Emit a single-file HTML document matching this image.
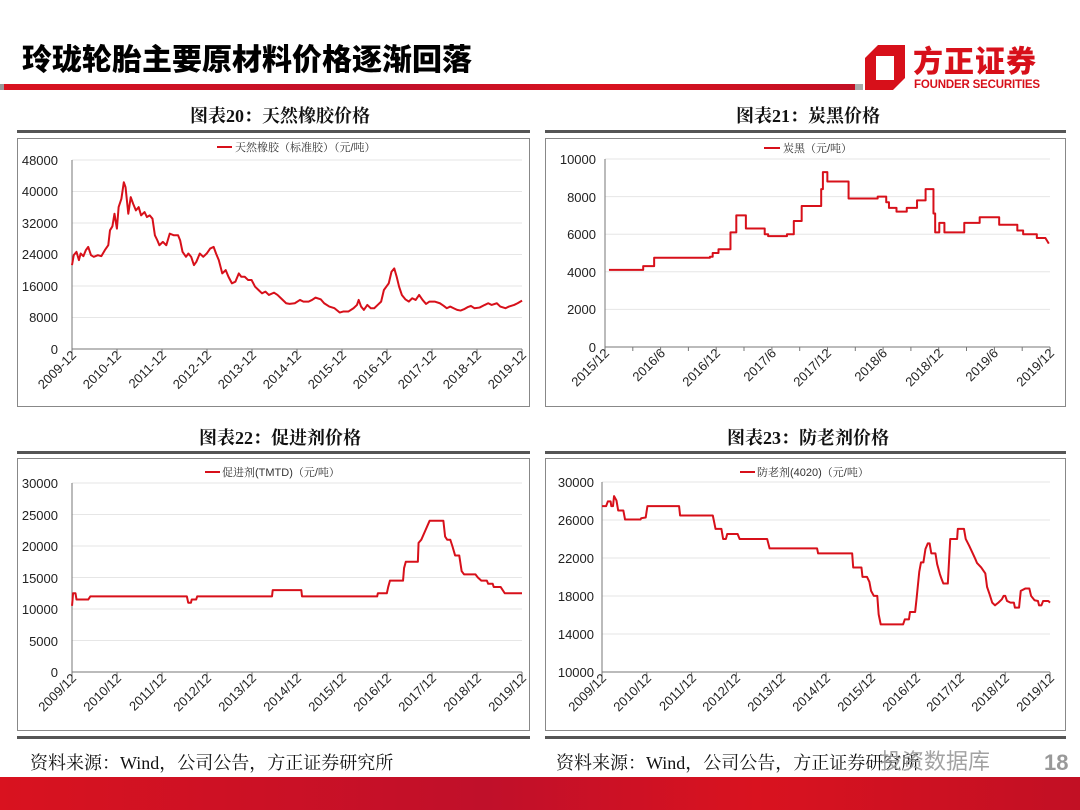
<!DOCTYPE html>
<html><head><meta charset="utf-8"><style>
html,body{margin:0;padding:0;background:#fff;}
svg{display:block;}
.t{font-family:"Liberation Sans","Noto Sans CJK SC",sans-serif;font-size:13px;fill:#222;}
.h{font-family:"Liberation Serif","Noto Serif CJK SC",serif;font-size:18px;font-weight:bold;fill:#111;}
.lg{font-family:"Liberation Sans","Noto Serif CJK SC",serif;font-size:11px;fill:#333;}
.g{stroke:#e6e6e6;stroke-width:1;}
.ax{stroke:#777;stroke-width:1;fill:none;}
.s{fill:none;stroke:#d7101a;stroke-width:2;vector-effect:non-scaling-stroke;stroke-linejoin:round;}
.src{font-family:"Liberation Serif","Noto Serif CJK SC",serif;font-size:18px;fill:#111;}
</style></head><body>
<svg width="1080" height="810" viewBox="0 0 1080 810" xmlns="http://www.w3.org/2000/svg">
<defs><linearGradient id="rb" x1="0" x2="1"><stop offset="0" stop-color="#d9121f"/><stop offset="0.45" stop-color="#c0102a"/><stop offset="0.7" stop-color="#d9121f"/><stop offset="1" stop-color="#c21024"/></linearGradient></defs>
<text x="22" y="70" style="font-family:'Noto Sans CJK SC',sans-serif;font-size:30px;font-weight:900;fill:#000;">玲珑轮胎主要原材料价格逐渐回落</text>
<rect x="0" y="84" width="4" height="6" fill="#999"/>
<rect x="4" y="84" width="851" height="6" fill="url(#rb)"/>
<rect x="855" y="84" width="8" height="6" fill="#aaa"/>
<path d="M878 45 L905 45 L905 78 L893 90 L865 90 L865 58 Z M876 56 L876 80 L894 80 L894 56 Z" fill="#d7101a" fill-rule="evenodd"/>
<text x="913" y="72" style="font-family:'Noto Sans CJK SC',sans-serif;font-size:30px;font-weight:900;fill:#d7101a;letter-spacing:1px;">方正证券</text>
<text x="914" y="88" style="font-family:'Liberation Sans',sans-serif;font-size:11.5px;font-weight:bold;fill:#d7101a;" textLength="126">FOUNDER SECURITIES</text>

<text x="280" y="122" class="h" text-anchor="middle">图表20：天然橡胶价格</text>
<rect x="17" y="130" width="513" height="3" fill="#555"/>
<rect x="17.5" y="138.5" width="512" height="268" fill="none" stroke="#888"/>
<line x1="217" y1="147" x2="232" y2="147" stroke="#d7101a" stroke-width="2"/>
<text x="235" y="151" class="lg">天然橡胶（标准胶）（元/吨）</text>
<g class="g"><line x1="72" x2="522" y1="160" y2="160"/><line x1="72" x2="522" y1="191.5" y2="191.5"/><line x1="72" x2="522" y1="223" y2="223"/><line x1="72" x2="522" y1="254.5" y2="254.5"/><line x1="72" x2="522" y1="286" y2="286"/><line x1="72" x2="522" y1="317.5" y2="317.5"/></g>
<path class="ax" d="M72 160 V349 H522 M72 349 v4 M117 349 v4 M162 349 v4 M207 349 v4 M252 349 v4 M297 349 v4 M342 349 v4 M387 349 v4 M432 349 v4 M477 349 v4 M522 349 v4"/>
<g class="t" text-anchor="end"><text x="58" y="165">48000</text><text x="58" y="196">40000</text><text x="58" y="228">32000</text><text x="58" y="259">24000</text><text x="58" y="291">16000</text><text x="58" y="322">8000</text><text x="58" y="354">0</text></g>
<g class="t" text-anchor="end">
<text transform="translate(77,356) rotate(-45)">2009-12</text><text transform="translate(122,356) rotate(-45)">2010-12</text><text transform="translate(167,356) rotate(-45)">2011-12</text><text transform="translate(212,356) rotate(-45)">2012-12</text><text transform="translate(257,356) rotate(-45)">2013-12</text><text transform="translate(302,356) rotate(-45)">2014-12</text><text transform="translate(347,356) rotate(-45)">2015-12</text><text transform="translate(392,356) rotate(-45)">2016-12</text><text transform="translate(437,356) rotate(-45)">2017-12</text><text transform="translate(482,356) rotate(-45)">2018-12</text><text transform="translate(527,356) rotate(-45)">2019-12</text></g>
<g transform="matrix(0.3454,0,0,0.3316,-2.26,140.77)"><polyline class="s" points="215,375 220,345 228,335 235,360 240,340 248,348 255,330 262,320 270,345 278,350 290,345 300,348 310,330 320,315 325,270 332,258 338,220 345,265 350,200 358,175 365,125 370,140 378,220 385,170 392,190 400,210 408,200 415,225 425,215 432,230 440,225 448,235 455,285 462,300 468,315 478,305 488,315 498,280 510,285 522,285 528,300 535,335 545,350 552,340 560,350 568,375 575,365 585,340 595,350 605,340 615,325 625,320 632,340 640,360 650,400 660,390 668,410 678,430 688,425 698,400 705,410 715,410 725,420 735,420 745,440 755,450 765,460 775,455 785,465 800,458 810,465 820,475 835,490 845,492 860,490 875,480 885,485 900,485 910,480 920,473 935,478 945,490 960,500 975,505 990,518 1000,515 1015,515 1030,505 1040,495 1045,480 1052,500 1060,510 1070,495 1080,505 1090,505 1100,495 1110,485 1118,450 1125,440 1132,430 1140,395 1148,385 1155,410 1162,440 1170,465 1180,478 1190,485 1200,475 1210,480 1220,465 1230,480 1240,492 1250,485 1265,485 1280,490 1290,497 1300,505 1310,500 1320,505 1330,510 1340,512 1350,508 1360,502 1370,498 1380,505 1395,503 1410,495 1420,490 1430,495 1445,490 1455,500 1470,505 1480,500 1495,495 1505,490 1518,482"/></g>

<text x="808" y="122" class="h" text-anchor="middle">图表21：炭黑价格</text>
<rect x="545" y="130" width="521" height="3" fill="#555"/>
<rect x="545.5" y="138.5" width="520" height="268" fill="none" stroke="#888"/>
<line x1="764" y1="148" x2="780" y2="148" stroke="#d7101a" stroke-width="2"/>
<text x="783" y="152" class="lg">炭黑（元/吨）</text>
<g class="g"><line x1="605" x2="1050" y1="159" y2="159"/><line x1="605" x2="1050" y1="196.6" y2="196.6"/><line x1="605" x2="1050" y1="234.2" y2="234.2"/><line x1="605" x2="1050" y1="271.8" y2="271.8"/><line x1="605" x2="1050" y1="309.4" y2="309.4"/></g>
<path class="ax" d="M605 159 V347 H1050 M605 347v4 M632.8 347v4 M660.6 347v4 M688.4 347v4 M716.2 347v4 M744 347v4 M771.9 347v4 M799.7 347v4 M827.5 347v4 M855.3 347v4 M883.1 347v4 M910.9 347v4 M938.7 347v4 M966.5 347v4 M994.4 347v4 M1022.2 347v4 M1050 347v4"/>
<g class="t" text-anchor="end"><text x="596" y="164">10000</text><text x="596" y="202">8000</text><text x="596" y="239">6000</text><text x="596" y="277">4000</text><text x="596" y="314">2000</text><text x="596" y="352">0</text></g>
<g class="t" text-anchor="end">
<text transform="translate(610,354) rotate(-45)">2015/12</text><text transform="translate(666,354) rotate(-45)">2016/6</text><text transform="translate(721,354) rotate(-45)">2016/12</text><text transform="translate(777,354) rotate(-45)">2017/6</text><text transform="translate(832,354) rotate(-45)">2017/12</text><text transform="translate(888,354) rotate(-45)">2018/6</text><text transform="translate(944,354) rotate(-45)">2018/12</text><text transform="translate(999,354) rotate(-45)">2019/6</text><text transform="translate(1055,354) rotate(-45)">2019/12</text></g>
<g transform="matrix(0.3423,0,0,-0.0188,540.5,347)"><path class="s" d="M200 4100 H300 V4300 H332 V4750 H495 V4800 H503 V5000 H520 V5200 H555 V6100 H572 V7000 H600 V6300 H655 V6000 H665 V5900 H720 V6000 H740 V6700 H763 V7500 H820 V8400 H825 V9300 H838 V8800 H900 V7900 H985 V8000 H1010 V7700 H1018 V7400 H1040 V7200 H1070 V7400 H1100 V7800 H1125 V8400 H1148 V7100 H1153 V6100 H1165 V6600 H1180 V6100 H1238 V6600 H1283 V6900 H1340 V6500 H1393 V6200 H1410 V6000 H1450 V5800 H1475 L1485 5500"/></g>

<text x="280" y="444" class="h" text-anchor="middle">图表22：促进剂价格</text>
<rect x="17" y="451" width="513" height="3" fill="#555"/>
<rect x="17.5" y="458.5" width="512" height="272" fill="none" stroke="#888"/>
<rect x="17" y="736" width="513" height="3" fill="#555"/>
<line x1="205" y1="472" x2="220" y2="472" stroke="#d7101a" stroke-width="2"/>
<text x="222" y="476" class="lg">促进剂(TMTD)（元/吨）</text>
<g class="g"><line x1="72" x2="522" y1="483" y2="483"/><line x1="72" x2="522" y1="514.5" y2="514.5"/><line x1="72" x2="522" y1="546" y2="546"/><line x1="72" x2="522" y1="577.5" y2="577.5"/><line x1="72" x2="522" y1="609" y2="609"/><line x1="72" x2="522" y1="640.5" y2="640.5"/></g>
<path class="ax" d="M72 483 V672 H522 M72 672 v4 M117 672 v4 M162 672 v4 M207 672 v4 M252 672 v4 M297 672 v4 M342 672 v4 M387 672 v4 M432 672 v4 M477 672 v4 M522 672 v4"/>
<g class="t" text-anchor="end"><text x="58" y="488">30000</text><text x="58" y="520">25000</text><text x="58" y="551">20000</text><text x="58" y="583">15000</text><text x="58" y="614">10000</text><text x="58" y="646">5000</text><text x="58" y="677">0</text></g>
<g class="t" text-anchor="end">
<text transform="translate(77,679) rotate(-45)">2009/12</text><text transform="translate(122,679) rotate(-45)">2010/12</text><text transform="translate(167,679) rotate(-45)">2011/12</text><text transform="translate(212,679) rotate(-45)">2012/12</text><text transform="translate(257,679) rotate(-45)">2013/12</text><text transform="translate(302,679) rotate(-45)">2014/12</text><text transform="translate(347,679) rotate(-45)">2015/12</text><text transform="translate(392,679) rotate(-45)">2016/12</text><text transform="translate(437,679) rotate(-45)">2017/12</text><text transform="translate(482,679) rotate(-45)">2018/12</text><text transform="translate(527,679) rotate(-45)">2019/12</text></g>
<g transform="matrix(0.3448,0,0,-0.0063,-2.1,672)"><polyline class="s" points="215,10500 218,12500 225,12500 228,11500 262,11500 268,12000 548,12000 552,11000 560,11000 562,11500 575,11500 578,12000 795,12000 797,13000 880,13000 882,12000 1100,12000 1102,12500 1128,12500 1132,13500 1137,14500 1175,14500 1178,16500 1183,17500 1218,17500 1220,20500 1228,21000 1240,22500 1252,24000 1292,24000 1297,21500 1303,21000 1312,21000 1318,20000 1326,18500 1338,18500 1345,16000 1352,15500 1385,15500 1392,15000 1402,14500 1418,14500 1422,14000 1435,14000 1438,13500 1458,13500 1470,12500 1520,12500"/></g>

<text x="808" y="444" class="h" text-anchor="middle">图表23：防老剂价格</text>
<rect x="545" y="451" width="521" height="3" fill="#555"/>
<rect x="545.5" y="458.5" width="520" height="272" fill="none" stroke="#888"/>
<rect x="545" y="736" width="521" height="3" fill="#555"/>
<line x1="740" y1="472" x2="755" y2="472" stroke="#d7101a" stroke-width="2"/>
<text x="757" y="476" class="lg">防老剂(4020)（元/吨）</text>
<g class="g"><line x1="602" x2="1050" y1="482" y2="482"/><line x1="602" x2="1050" y1="520" y2="520"/><line x1="602" x2="1050" y1="558" y2="558"/><line x1="602" x2="1050" y1="596" y2="596"/><line x1="602" x2="1050" y1="634" y2="634"/></g>
<path class="ax" d="M602 482 V672 H1050 M602 672v4 M646.8 672v4 M691.6 672v4 M736.4 672v4 M781.2 672v4 M826 672v4 M870.8 672v4 M915.6 672v4 M960.4 672v4 M1005.2 672v4 M1050 672v4"/>
<g class="t" text-anchor="end"><text x="594" y="487">30000</text><text x="594" y="525">26000</text><text x="594" y="563">22000</text><text x="594" y="601">18000</text><text x="594" y="639">14000</text><text x="594" y="677">10000</text></g>
<g class="t" text-anchor="end">
<text transform="translate(607,679) rotate(-45)">2009/12</text><text transform="translate(652,679) rotate(-45)">2010/12</text><text transform="translate(697,679) rotate(-45)">2011/12</text><text transform="translate(741,679) rotate(-45)">2012/12</text><text transform="translate(786,679) rotate(-45)">2013/12</text><text transform="translate(831,679) rotate(-45)">2014/12</text><text transform="translate(876,679) rotate(-45)">2015/12</text><text transform="translate(921,679) rotate(-45)">2016/12</text><text transform="translate(965,679) rotate(-45)">2017/12</text><text transform="translate(1010,679) rotate(-45)">2018/12</text><text transform="translate(1055,679) rotate(-45)">2019/12</text></g>
<g transform="matrix(0.3441,0,0,0.3351,540.75,418.33)"><polyline class="s" points="178,262 190,262 195,248 203,248 205,262 210,262 213,232 220,245 225,275 240,275 245,302 290,302 292,298 305,296 310,262 402,262 405,290 500,290 508,330 525,330 530,360 538,360 542,345 572,345 578,360 658,360 665,388 803,388 806,403 905,403 908,445 932,445 935,473 948,473 955,488 960,515 968,530 978,530 982,585 988,615 1053,615 1058,600 1070,600 1073,578 1088,578 1092,540 1100,458 1105,430 1112,430 1118,390 1125,373 1130,373 1135,403 1147,403 1152,435 1160,465 1165,480 1170,493 1183,493 1190,360 1210,360 1212,330 1230,330 1235,360 1245,380 1255,402 1263,420 1268,432 1280,445 1292,463 1297,503 1305,527 1312,550 1320,558 1330,550 1340,540 1345,530 1350,530 1355,545 1365,550 1375,550 1378,565 1390,565 1395,515 1408,508 1420,508 1425,530 1435,543 1445,545 1448,558 1455,558 1460,545 1475,545 1480,550"/></g>

<text x="30" y="769" class="src">资料来源：Wind，公司公告，方正证券研究所</text>
<text x="556" y="769" class="src">资料来源：Wind，公司公告，方正证券研究所</text>
<text x="880" y="769" style="font-family:'Noto Sans CJK SC',sans-serif;font-size:22px;fill:#999;opacity:0.9;">投资数据库</text>
<text x="1044" y="770" style="font-family:'Liberation Sans',sans-serif;font-size:22px;font-weight:bold;fill:#999;">18</text>
<rect x="0" y="777" width="1080" height="33" fill="url(#rb)"/>
</svg>
</body></html>
